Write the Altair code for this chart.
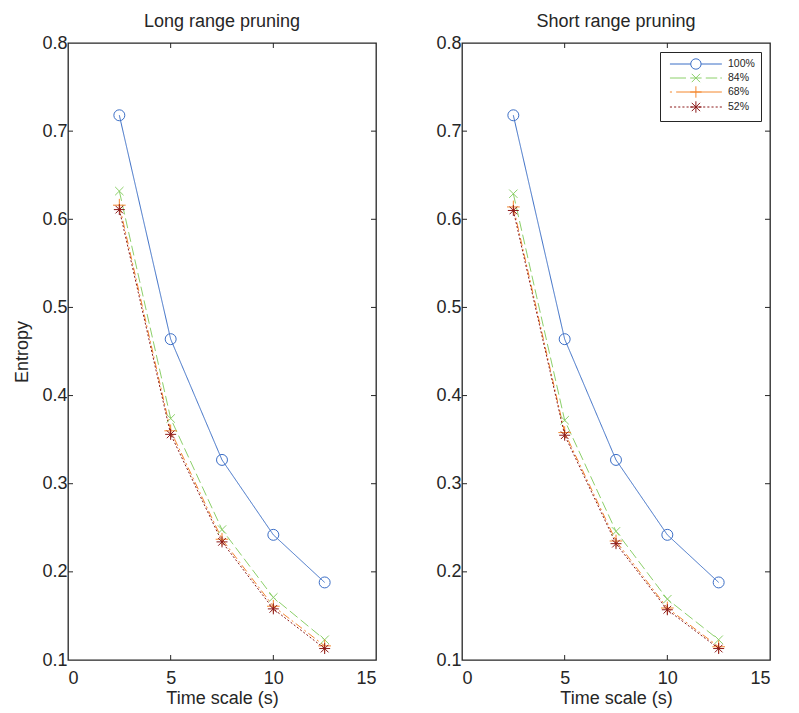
import altair as alt
import pandas as pd

time_scale = [2.5, 5, 7.5, 10, 12.5]
series_names = ["100%", "84%", "68%", "52%"]

long_100 = [0.718, 0.464, 0.327, 0.242, 0.188]
long_84 = [0.632, 0.374, 0.248, 0.171, 0.123]
long_68 = [0.616, 0.360, 0.237, 0.161, 0.116]
long_52 = [0.611, 0.356, 0.234, 0.158, 0.113]

short_100 = [0.718, 0.464, 0.327, 0.242, 0.188]
short_84 = [0.629, 0.372, 0.246, 0.169, 0.123]
short_68 = [0.614, 0.358, 0.235, 0.159, 0.115]
short_52 = [0.610, 0.355, 0.232, 0.157, 0.113]

x_ticks = [0, 5, 10, 15]
y_ticks = [0.1, 0.2, 0.3, 0.4, 0.5, 0.6, 0.7, 0.8]

colors = ["#3B6EC6", "#8CD06A", "#F4882E", "#8C1A1A"]
dashes = [[1, 0], [10, 4], [8, 3, 2, 3], [2, 2]]

marker_shapes = [
    ("circle", 120),
    ("M-1,-1L1,1M-1,1L1,-1", 70),
    ("M-1,0L1,0M0,-1L0,1", 160),
    ("M-1,0L1,0M0,-1L0,1M-0.7,-0.7L0.7,0.7M-0.7,0.7L0.7,-0.7", 120),
]

# legend symbols: line + marker drawn in one path (unit ~5px), x in [-0.4, 9.6]
circ = "M3.6,0A1,1,0,1,1,5.6,0A1,1,0,1,1,3.6,0"
xmk = "M3.8,-0.8L5.4,0.8M3.8,0.8L5.4,-0.8"
pmk = "M4.6,-1.1L4.6,1.1M3.5,0L5.7,0"
amk = "M3.5,0L5.7,0M4.6,-1.1L4.6,1.1M3.8,-0.8L5.4,0.8M3.8,0.8L5.4,-0.8"
dots = "".join("M%.1f,0L%.1f,0" % (-0.4 + i * 0.8, 0.0 + i * 0.8) for i in range(13))
legend_paths = [
    "M-0.4,0L3.6,0M5.6,0L9.6,0" + circ,
    "M-0.4,0L2.7,0M3.5,0L5.7,0M6.5,0L8.7,0M9.3,0L9.6,0" + xmk,
    "M-0.4,0L0,0M0.8,0L9.6,0" + pmk,
    dots + amk,
]


def make_df(vals):
    rows = []
    for name, ys in zip(series_names, vals):
        for x, y in zip(time_scale, ys):
            rows.append({"series": name, "x": x, "y": y})
    return pd.DataFrame(rows)


df_long = make_df([long_100, long_84, long_68, long_52])
df_short = make_df([short_100, short_84, short_68, short_52])
ticks_x_df = pd.DataFrame({"t": [5, 10]})
ticks_y_df = pd.DataFrame({"t": y_ticks[1:-1]})

W, H = 308, 617

xs = alt.Scale(domain=[0, 15], nice=False, zero=False)
ys = alt.Scale(domain=[0.1, 0.8], nice=False, zero=False)


def panel(df, title, show_legend, show_ytitle):
    base = alt.Chart(df)
    x_enc = alt.X("x:Q", scale=xs, axis=alt.Axis(values=x_ticks, title="Time scale (s)",
                                                   ticks=False, tickSize=0, domain=False, grid=False,
                                                   labelPadding=9, titlePadding=2, format="d"))
    y_enc = alt.Y("y:Q", scale=ys, axis=alt.Axis(values=y_ticks, title="Entropy" if show_ytitle else None,
                                                   ticks=False, tickSize=0, domain=False, grid=False,
                                                   labelPadding=1, titlePadding=10, format=".1f"))
    layers = []
    for i, name in enumerate(series_names):
        sub = base.transform_filter(alt.datum.series == name)
        layers.append(
            sub.mark_line(strokeWidth=1, color=colors[i], strokeDash=dashes[i]).encode(
                x=x_enc if i == 0 else "x:Q", y=y_enc if i == 0 else "y:Q", order="x:Q")
        )
    for i, name in enumerate(series_names):
        shp, sz = marker_shapes[i]
        layers.append(
            base.transform_filter(alt.datum.series == name).mark_point(
                shape=shp, size=sz, filled=False, strokeWidth=1, opacity=1, color=colors[i]
            ).encode(x="x:Q", y="y:Q")
        )
    # inside ticks
    tx = alt.Chart(ticks_x_df)
    ty = alt.Chart(ticks_y_df)
    tick_style = dict(color="#262626", strokeWidth=1)
    layers += [
        tx.mark_rule(**tick_style).encode(x=alt.X("t:Q", scale=xs), y=alt.value(0), y2=alt.value(5)),
        tx.mark_rule(**tick_style).encode(x=alt.X("t:Q", scale=xs), y=alt.value(H), y2=alt.value(H - 5)),
        ty.mark_rule(**tick_style).encode(y=alt.Y("t:Q", scale=ys), x=alt.value(0), x2=alt.value(5)),
        ty.mark_rule(**tick_style).encode(y=alt.Y("t:Q", scale=ys), x=alt.value(W), x2=alt.value(W - 5)),
    ]
    if show_legend:
        leg = alt.Legend(title=None, orient="none", legendX=198, legendY=9,
                         fillColor="white", strokeColor="#262626", padding=6,
                         labelFontSize=10.5, labelFont="Liberation Sans", labelColor="#262626",
                         symbolSize=108, symbolStrokeWidth=1, rowPadding=-1, symbolOpacity=1,
                         labelOffset=50, symbolFillColor="transparent")
        layers.append(
            base.mark_point(filled=False, strokeWidth=1, opacity=0).encode(
                x="x:Q", y="y:Q",
                color=alt.Color("series:N", scale=alt.Scale(domain=series_names, range=colors), legend=leg),
                shape=alt.Shape("series:N", scale=alt.Scale(domain=series_names, range=legend_paths), legend=leg),
            )
        )
    return alt.layer(*layers).properties(
        width=W, height=H,
        title=alt.TitleParams(title, fontSize=18, fontWeight="normal", font="Liberation Sans",
                              color="#262626", offset=3),
    )


left = panel(df_long, "Long range pruning", False, True)
right = panel(df_short, "Short range pruning", True, False)

chart = alt.hconcat(left, right, spacing=57).resolve_scale(
    color="independent", shape="independent"
).resolve_legend(
    color="independent", shape="independent"
).configure_view(
    stroke="#262626", strokeWidth=1.3
).configure_axis(
    labelFont="Liberation Sans", titleFont="Liberation Sans", labelFontSize=18, titleFontSize=18,
    labelColor="#262626", titleColor="#262626", titleFontWeight="normal"
).properties(background="white", padding={"left": 5, "top": 4, "right": 0, "bottom": 0})

chart.save("out.html", embed_options={"renderer": "svg", "actions": False})
